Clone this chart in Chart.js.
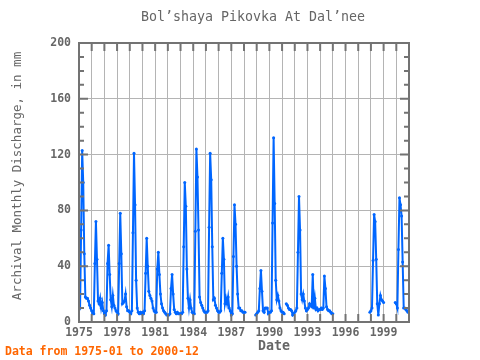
<!DOCTYPE html>
<html><head><meta charset="utf-8">
<script src="https://cdn.jsdelivr.net/npm/chart.js@4.4.1/dist/chart.umd.min.js"></script>
<style>html,body{margin:0;padding:0;background:#fff;}canvas{display:block;}</style>
</head><body>
<canvas id="c" width="480" height="360"></canvas>
<script>
const chartTitle = "Bol’shaya Pikovka At Dal’nee";
const yAxisTitle = "Archival Monthly Discharge, in mm";
const xAxisTitle = "Date";
const footerText = "Data from 1975-01 to 2000-12";

const years = [1975,1976,1977,1978,1979,1980,1981,1982,1983,1984,1985,1986,1987,
               1988,1989,1990,1991,1992,1993,1994,1995,1996,1997,1998,1999,2000];
const tickLabels = ["1975","1978","1981","1984","1987","1990","1993","1996","1999"];
const yTickValues = [0, 40, 80, 120, 160, 200];

// monthly discharge (mm), Jan..Dec, null = missing
const q1975 = [9,10,66,123,100,49,18,17,17,15,12,10];
const q1976 = [8,6,6,42,72,45,15,13,17,10,14,8];
const q1977 = [6,5,8,42,55,34,16,11,19,12,10,8];
const q1978 = [7,6,42,78,49,13,14,15,20,11,8,8];
const q1979 = [7,6,8,64,121,84,30,10,7,6,7,6];
const q1980 = [7,6,8,35,60,40,22,19,17,15,10,8];
const q1981 = [7,7,38,50,34,20,13,10,8,7,6,5];
const q1982 = [5,5,6,24,34,20,9,7,6,7,6,6];
const q1983 = [6,6,7,54,100,83,38,17,10,16,10,7];
const q1984 = [6,6,65,124,104,66,18,14,12,10,8,7];
const q1985 = [7,7,8,68,121,102,54,16,17,12,10,8];
const q1986 = [7,7,8,35,60,45,13,17,13,18,10,8];
const q1987 = [5,6,47,84,70,40,20,10,10,8,8,7];
const q1988 = [7,7,null,null,null,null,null,null,null,null,null,5];
const q1989 = [6,7,8,24,37,22,8,7,10,10,10,6];
const q1990 = [7,7,8,71,132,85,30,16,19,15,10,8];
const q1991 = [7,7,6,null,13,12,10,9,9,8,5,6];
const q1992 = [7,8,10,50,90,66,20,16,20,15,10,8];
const q1993 = [9,10,13,12,11,34,10,17,9,10,8,9];
const q1994 = [9,10,9,10,33,24,11,9,8,8,7,6];
const q1995 = [6,null,null,null,null,null,null,null,null,null,null,null];
const q1996 = [null,null,null,null,null,null,null,null,null,null,null,null];
const q1997 = [null,null,null,null,null,null,null,null,null,null,null,7];
const q1998 = [8,10,44,77,72,45,13,5,13,19,16,15];
const q1999 = [14,null,null,null,null,null,null,null,null,null,null,14];
const q2000 = [13,10,52,89,84,76,43,10,10,9,8,7];

const dischargeByYear = [q1975,q1976,q1977,q1978,q1979,q1980,q1981,q1982,q1983,q1984,
  q1985,q1986,q1987,q1988,q1989,q1990,q1991,q1992,q1993,q1994,q1995,q1996,q1997,q1998,q1999,q2000];

const points = [];
years.forEach((yr, i) => {
  dischargeByYear[i].forEach((v, m) => points.push({x: yr + m / 12, y: v}));
});

const FONT = '"DejaVu Sans Mono", monospace';
const GRAY = '#666666';
const FRAME = '#737373';

const framePlugin = {
  id: 'frameAndText',
  afterDraw(chart) {
    const {ctx, chartArea: a, scales: {x, y}} = chart;
    ctx.save();
    ctx.strokeStyle = FRAME;
    ctx.lineWidth = 2;
    ctx.strokeRect(a.left, a.top, a.right - a.left, a.bottom - a.top);
    ctx.beginPath();
    for (let yr = years[0]; yr <= years[years.length - 1] + 1; yr++) {
      const px = x.getPixelForValue(yr);
      ctx.moveTo(px, a.top); ctx.lineTo(px, a.top + 8);
      ctx.moveTo(px, a.bottom); ctx.lineTo(px, a.bottom - 8);
    }
    for (let v = 0; v <= 200; v += 10) {
      const py = y.getPixelForValue(v);
      const len = v % 40 === 0 ? 9 : 5;
      ctx.moveTo(a.left, py); ctx.lineTo(a.left + len, py);
      ctx.moveTo(a.right, py); ctx.lineTo(a.right - len, py);
    }
    ctx.stroke();

    ctx.textAlign = 'center';
    ctx.textBaseline = 'middle';
    ctx.fillStyle = GRAY;
    ctx.font = '13.3px ' + FONT;
    ctx.fillText(chartTitle, 253, 18);

    ctx.font = 'bold 13.3px ' + FONT;
    ctx.fillText(xAxisTitle, 274, 347);

    ctx.save();
    ctx.translate(18, 176);
    ctx.rotate(-Math.PI / 2);
    ctx.font = '12.5px ' + FONT;
    ctx.fillText(yAxisTitle, 0, 0);
    ctx.restore();

    ctx.textAlign = 'left';
    ctx.fillStyle = '#ff6600';
    ctx.font = 'bold 11.5px ' + FONT;
    ctx.fillText(footerText, 5, 352);
    ctx.restore();
  }
};

new Chart(document.getElementById('c'), {
  type: 'line',
  data: {
    datasets: [{
      data: points,
      borderColor: '#0066ff',
      backgroundColor: '#0066ff',
      borderWidth: 2,
      pointRadius: 1.5,
      pointHoverRadius: 1.5,
      pointBorderWidth: 0,
      pointBackgroundColor: '#0066ff',
      tension: 0,
      spanGaps: false,
      fill: false
    }]
  },
  options: {
    responsive: false,
    animation: false,
    devicePixelRatio: 1,
    layout: {padding: {top: 43, right: 71, left: 0, bottom: 0}},
    plugins: {legend: {display: false}, title: {display: false}, tooltip: {enabled: false}},
    scales: {
      x: {
        type: 'linear',
        min: years[0],
        max: years[years.length - 1] + 1,
        afterFit(s) { s.height = 38; },
        border: {display: false},
        grid: {color: '#b4b4b4', lineWidth: 1, drawTicks: false},
        ticks: {
          stepSize: 1, autoSkip: false, maxRotation: 0, padding: 4,
          color: GRAY, font: {family: FONT, size: 11.5, weight: 'bold'},
          callback: v => tickLabels.includes(String(v)) ? String(v) : ''
        }
      },
      y: {
        min: 0, max: 200,
        afterFit(s) { s.width = 79; },
        afterBuildTicks(s) { s.ticks = yTickValues.map(v => ({value: v})); },
        border: {display: false},
        grid: {color: '#b4b4b4', lineWidth: 1, drawTicks: false},
        ticks: {padding: 8, color: GRAY, font: {family: FONT, size: 11.5, weight: 'bold'}}
      }
    }
  },
  plugins: [framePlugin]
});
</script>
</body></html>
